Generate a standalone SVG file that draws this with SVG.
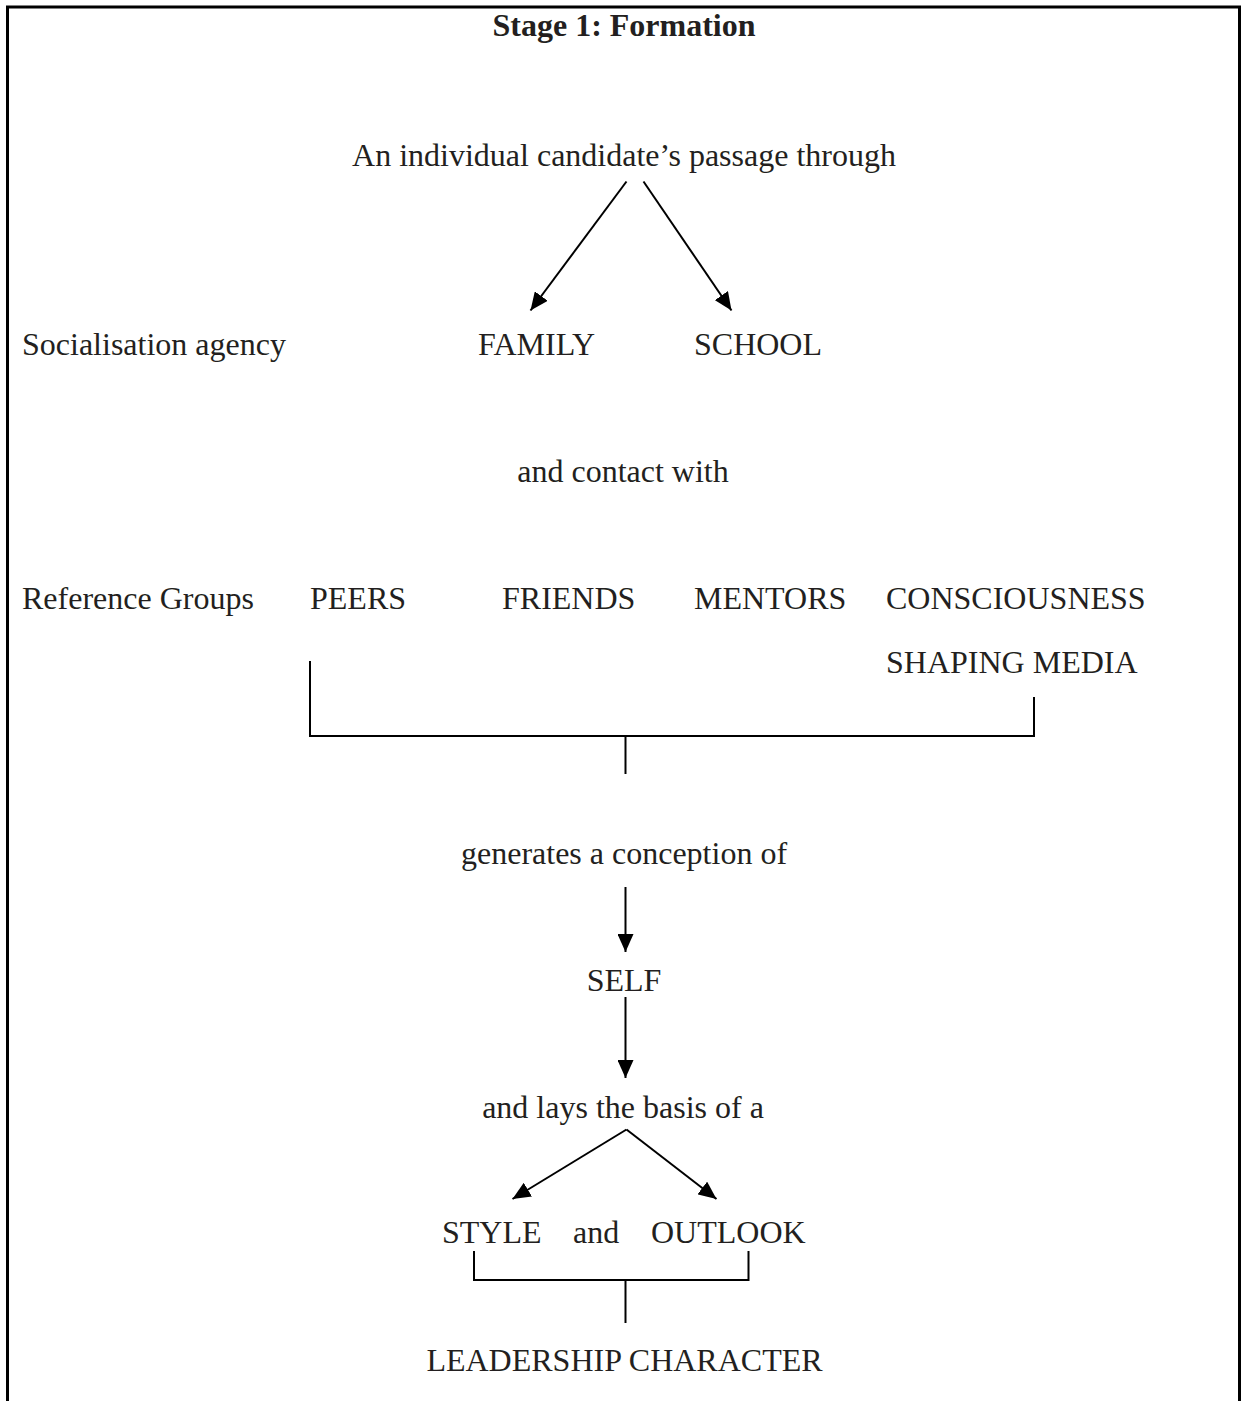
<svg xmlns="http://www.w3.org/2000/svg" width="1241" height="1401" viewBox="0 0 1241 1401">
  <style>
    text { font-family: "Liberation Serif", "Times New Roman", serif; font-size: 32px; fill: #231f20; }
    .title { font-weight: bold; }
    .mid { text-anchor: middle; }
    .line { stroke: #000; stroke-width: 2; fill: none; }
    .frame { stroke: #000; stroke-width: 3; fill: none; }
  </style>
  <defs>
    <marker id="head" markerUnits="userSpaceOnUse" viewBox="0 0 18 16" refX="18" refY="8" markerWidth="18" markerHeight="16" orient="auto">
      <path d="M0,0 L18,8 L0,16 Z" fill="#000"/>
    </marker>
  </defs>

  <rect width="1241" height="1401" fill="#fff"/>
  <!-- open frame: top and sides, running off the bottom edge -->
  <path class="frame" d="M7.5,1401 V7 H1239.5 V1401"/>

  <g id="title"><text class="title mid" x="624" y="36">Stage 1: Formation</text></g>

  <g id="passage"><text class="mid" x="624" y="166">An individual candidate’s passage through</text></g>
  <g id="socialisation-label"><text x="22" y="355">Socialisation agency</text></g>
  <g id="family"><text x="478" y="355">FAMILY</text></g>
  <g id="school"><text x="694" y="355">SCHOOL</text></g>

  <g id="contact"><text class="mid" x="623" y="482">and contact with</text></g>
  <g id="reference-label"><text x="22" y="609">Reference Groups</text></g>
  <g id="peers"><text x="310" y="609">PEERS</text></g>
  <g id="friends"><text x="502" y="609">FRIENDS</text></g>
  <g id="mentors"><text x="694" y="609">MENTORS</text></g>
  <g id="media">
    <text x="886" y="609">CONSCIOUSNESS</text>
    <text x="886" y="673">SHAPING MEDIA</text>
  </g>

  <g id="generates"><text class="mid" x="624" y="864">generates a conception of</text></g>
  <g id="self"><text class="mid" x="624" y="991">SELF</text></g>
  <g id="basis"><text class="mid" x="623" y="1118">and lays the basis of a</text></g>
  <g id="style"><text x="442" y="1243">STYLE</text></g>
  <g id="and"><text x="573" y="1243">and</text></g>
  <g id="outlook"><text x="651" y="1243">OUTLOOK</text></g>
  <g id="leadership"><text class="mid" x="624.5" y="1371">LEADERSHIP CHARACTER</text></g>

  <g id="connectors">
    <line class="line" x1="626.5" y1="181.5" x2="530.5" y2="310.5" marker-end="url(#head)"/>
    <line class="line" x1="643.5" y1="181.5" x2="731.5" y2="310.5" marker-end="url(#head)"/>

    <!-- bracket joining the reference groups -->
    <path class="line" d="M310,661 V736 H1034 V697"/>
    <line class="line" x1="625.5" y1="736" x2="625.5" y2="774"/>

    <line class="line" x1="625.5" y1="887" x2="625.5" y2="952" marker-end="url(#head)"/>
    <line class="line" x1="625.5" y1="997" x2="625.5" y2="1078" marker-end="url(#head)"/>

    <line class="line" x1="626.5" y1="1129.5" x2="512.5" y2="1199" marker-end="url(#head)"/>
    <line class="line" x1="626.5" y1="1129.5" x2="716.5" y2="1199" marker-end="url(#head)"/>

    <!-- bracket joining style and outlook -->
    <path class="line" d="M474,1251 V1280 H748.5 V1251"/>
    <line class="line" x1="625.5" y1="1280" x2="625.5" y2="1323"/>
  </g>
</svg>
